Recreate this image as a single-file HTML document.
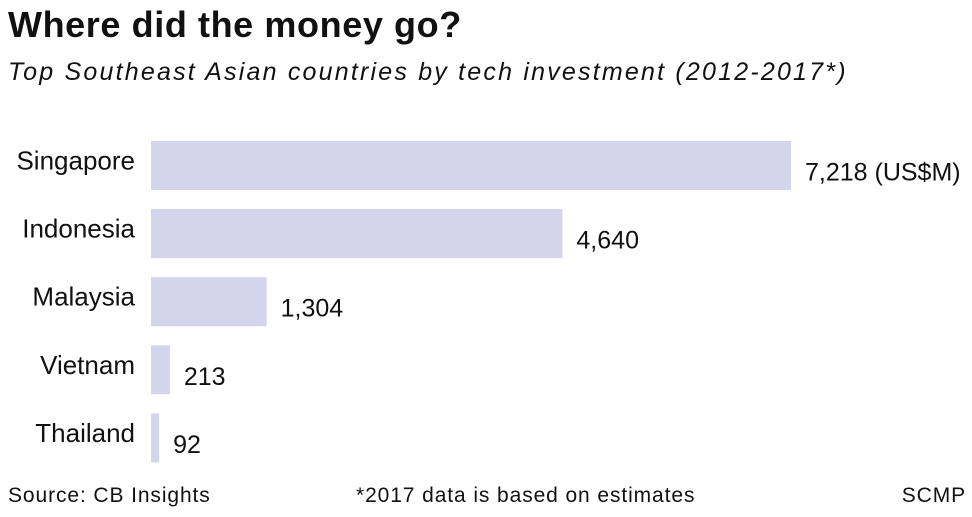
<!DOCTYPE html>
<html><head><meta charset="utf-8"><style>
body{margin:0;width:972px;height:517px;background:#fff;overflow:hidden;font-family:"Liberation Sans",sans-serif;color:#111}
#t{position:absolute;left:8px;top:4px;font-size:36px;font-weight:bold;letter-spacing:0.6px}
#s{position:absolute;left:8px;top:58px;font-size:25px;font-style:italic;letter-spacing:2.2px}
.f{position:absolute;top:484px;font-size:21px;letter-spacing:0.9px}
</style></head><body>
<div id="t">Where did the money go?</div>
<div id="s">Top Southeast Asian countries by tech investment (2012-2017*)</div>
<svg id="c" width="972" height="517" style="position:absolute;left:0;top:0"></svg>
<div class="f" style="left:8px">Source: CB Insights</div>
<div class="f" style="left:356px">*2017 data is based on estimates</div>
<div class="f" style="right:6px">SCMP</div>
<script>
const categories=["Singapore","Indonesia","Malaysia","Vietnam","Thailand"];
const values=[7218,4640,1304,213,92];
const valueLabels=["7,218 (US$M)","4,640","1,304","213","92"];
const svg=document.getElementById('c');const NS="http://www.w3.org/2000/svg";
const x0=151,xScale=v=>v*640/7218,y=i=>141+i*68.1,bh=49;
categories.forEach((c,i)=>{
 const r=document.createElementNS(NS,'rect');
 r.setAttribute('x',x0);r.setAttribute('y',y(i));r.setAttribute('width',xScale(values[i]));r.setAttribute('height',bh);r.setAttribute('fill','#d4d5ec');
 
 
 svg.appendChild(r);
 const l=document.createElementNS(NS,'text');
 l.setAttribute('x',135);l.setAttribute('y',y(i)+bh/2+4);l.setAttribute('text-anchor','end');l.setAttribute('font-size','26');l.setAttribute('fill','#111');
 l.textContent=c;
 
 
 svg.appendChild(l);
 const v=document.createElementNS(NS,'text');
 v.setAttribute('x',x0+xScale(values[i])+14);v.setAttribute('y',y(i)+bh/2+15);v.setAttribute('font-size','25');v.setAttribute('fill','#111');
 v.textContent=valueLabels[i];
 
 
 svg.appendChild(v);
});
</script>
</body></html>
